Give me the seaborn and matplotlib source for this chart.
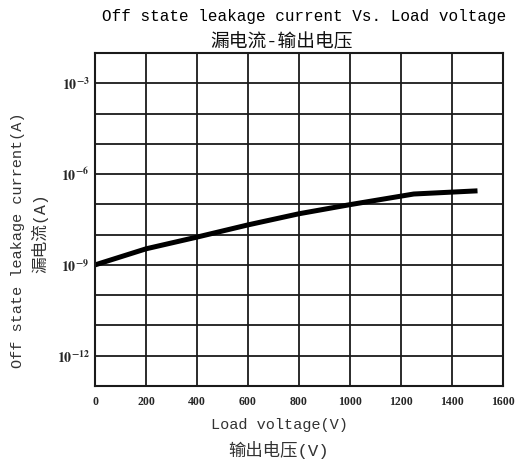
import matplotlib
matplotlib.use("Agg")
import matplotlib.pyplot as plt
import seaborn as sns
import pandas as pd

# values
voltage = [0, 200, 400, 600, 800, 1000, 1250, 1500]
leakage = [1.0e-9, 3.4e-9, 8.3e-9, 2.1e-8, 4.9e-8, 9.8e-8, 2.2e-7, 2.8e-7]
x_ticks = [0, 200, 400, 600, 800, 1000, 1200, 1400, 1600]
y_decades = list(range(-13, -1))
y_labelled = [-12, -9, -6, -3]

title_en = "Off state leakage current Vs. Load voltage"
title_cn = "漏电流-输出电压"
xlabel_en = "Load voltage(V)"
xlabel_cn = "输出电压(V)"
ylabel_en = "Off state leakage current(A)"
ylabel_cn = "漏电流(A)"

sns.set_style("white")
plt.rcParams["font.family"] = ["Liberation Mono", "Noto Sans CJK SC", "DejaVu Sans"]
plt.rcParams["mathtext.fontset"] = "stix"

df = pd.DataFrame({"voltage": voltage, "leakage": leakage})

fig = plt.figure(figsize=(5.15, 4.61), dpi=100)
ax = fig.add_axes([0.1845, 0.1627, 0.7922, 0.7223])

sns.lineplot(data=df, x="voltage", y="leakage", color="black", linewidth=3.6,
             ax=ax, solid_capstyle="butt")

ax.set_yscale("log")
ax.set_xlim(0, 1600)
ax.set_ylim(1e-13, 1e-2)

ax.set_xticks(x_ticks)
ax.set_xticklabels([str(v) for v in x_ticks], fontfamily="Liberation Serif",
                   fontweight="bold", fontsize=8.5)
ax.yaxis.set_major_locator(matplotlib.ticker.FixedLocator([10.0 ** d for d in y_decades]))
ax.yaxis.set_minor_locator(matplotlib.ticker.NullLocator())
ax.set_yticklabels([r"$\mathbf{10^{%d}}$" % d if d in y_labelled else "" for d in y_decades],
                   fontsize=10)

ax.grid(True, which="major", color="#1a1a1a", linewidth=1.3)
ax.tick_params(axis="y", direction="out", length=3, width=1.2, color="#1a1a1a", pad=1)
ax.tick_params(axis="x", length=0, pad=7)
for s in ax.spines.values():
    s.set_color("#1a1a1a")
    s.set_linewidth(1.5)
ax.set_xlabel("")
ax.set_ylabel("")

W, H = 515, 461
lab = dict(color="#333333", ha="center", va="center")
fig.text(279 / W, 1 - 425 / H, xlabel_en, fontsize=11, **lab)
fig.text(279 / W, 1 - 450 / H, xlabel_cn, fontsize=12.5, **lab)
fig.text(18 / W, 1 - 240 / H, ylabel_en, rotation=90, fontsize=11, **lab)
fig.text(40 / W, 1 - 233 / H, ylabel_cn, rotation=90, fontsize=12, **lab)

fig.text(304 / W, 1 - 17 / H, title_en, ha="center", va="center", fontsize=11.5, color="black")
fig.text(282 / W, 1 - 42 / H, title_cn, ha="center", va="center", fontsize=13.5, color="#111111")

fig.savefig("out.png", dpi=100)
